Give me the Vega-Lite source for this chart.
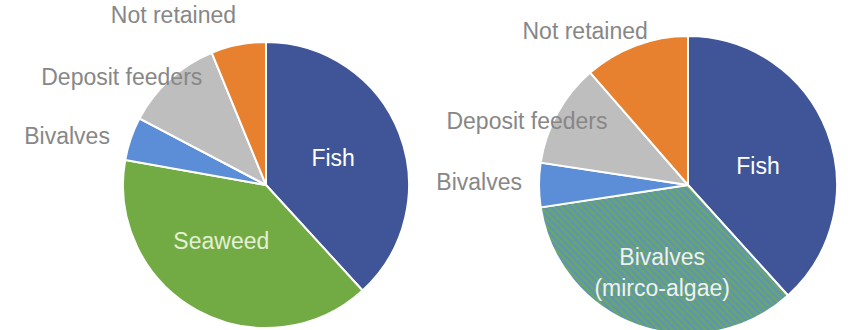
{
  "$schema": "https://vega.github.io/schema/vega-lite/v6.json",
  "padding": 0,
  "spacing": 0,
  "bounds": "flush",
  "background": "white",
  "config": {"view": {"stroke": null}, "text": {"font": "Liberation Sans", "fontSize": 23}},
  "datasets": {
    "before": [
      {"category": "Fish", "share": 38.2, "order": 1},
      {"category": "Seaweed", "share": 39.6, "order": 2},
      {"category": "Bivalves", "share": 4.9, "order": 3},
      {"category": "Deposit feeders", "share": 11.1, "order": 4},
      {"category": "Not retained", "share": 6.2, "order": 5}
    ],
    "after": [
      {"category": "Fish", "share": 38.3, "order": 1},
      {"category": "Bivalves (mirco-algae)", "share": 34.3, "order": 2},
      {"category": "Bivalves", "share": 4.8, "order": 3},
      {"category": "Deposit feeders", "share": 11.2, "order": 4},
      {"category": "Not retained", "share": 11.4, "order": 5}
    ]
  },
  "hconcat": [
    {
      "width": 532,
      "height": 370,
      "data": {"name": "before"},
      "encoding": {
        "theta": {"field": "share", "type": "quantitative", "stack": true},
        "order": {"field": "order", "type": "quantitative"}
      },
      "layer": [
        {
          "mark": {"type": "arc", "outerRadius": 143, "stroke": "white", "strokeWidth": 2},
          "encoding": {
            "fill": {
              "field": "category", "type": "nominal", "legend": null,
              "scale": {
                "domain": ["Fish", "Seaweed", "Bivalves", "Deposit feeders", "Not retained", "Bivalves (mirco-algae)"],
                "range": ["#3F5597", "#72AB44", "#5B8ED6", "#BEBEBE", "#E8812F", "#639D90"]
              }
            }
          }
        },
        {
          "mark": {"type": "text", "radius": 72, "color": "white", "align": "center", "baseline": "middle"},
          "encoding": {"text": {"condition": {"test": "datum.category === 'Fish'", "field": "category", "type": "nominal"}, "value": ""}}
        },
        {
          "mark": {"type": "text", "radius": 72, "color": "#E4F0D6", "align": "center", "baseline": "middle", "dx": -10, "dy": -6},
          "encoding": {"text": {"condition": {"test": "datum.category === 'Seaweed'", "field": "category", "type": "nominal"}, "value": ""}}
        },
        {
          "mark": {"type": "text", "radius": 165, "color": "#878787", "align": "right", "baseline": "middle", "dy": 5},
          "encoding": {"text": {"condition": {"test": "datum.category === 'Bivalves'", "field": "category", "type": "nominal"}, "value": ""}}
        },
        {
          "mark": {"type": "text", "radius": 170, "color": "#878787", "align": "right", "baseline": "middle", "dx": 3, "dy": -2},
          "encoding": {"text": {"condition": {"test": "datum.category === 'Not retained'", "field": "category", "type": "nominal"}, "value": ""}}
        },
        {
          "mark": {"type": "text", "radius": 160, "color": "#878787", "align": "right", "baseline": "middle", "dx": 44, "dy": 11},
          "encoding": {"text": {"condition": {"test": "datum.category === 'Deposit feeders'", "field": "category", "type": "nominal"}, "value": ""}}
        }
      ]
    },
    {
      "width": 312,
      "height": 370,
      "data": {"name": "after"},
      "encoding": {
        "theta": {"field": "share", "type": "quantitative", "stack": true},
        "order": {"field": "order", "type": "quantitative"}
      },
      "layer": [
        {
          "mark": {"type": "arc", "outerRadius": 149, "stroke": "white", "strokeWidth": 2},
          "encoding": {
            "fill": {
              "field": "category", "type": "nominal", "legend": null,
              "scale": {
                "domain": ["Fish", "Seaweed", "Bivalves", "Deposit feeders", "Not retained", "Bivalves (mirco-algae)"],
                "range": ["#3F5597", "#72AB44", "#5B8ED6", "#BEBEBE", "#E8812F", "#639D90"]
              },
              "condition": {
                "test": "datum.category === 'Bivalves (mirco-algae)'",
                "value": {
                  "gradient": "linear", "x1": 0, "y1": 0.79, "x2": 1, "y2": 0.21,
                  "stops": [
                    {"offset": 0, "color": "#6CAB55"}, {"offset": 0.01, "color": "#5B8FC9"},
                    {"offset": 0.02, "color": "#6CAB55"}, {"offset": 0.03, "color": "#5B8FC9"},
                    {"offset": 0.04, "color": "#6CAB55"}, {"offset": 0.05, "color": "#5B8FC9"},
                    {"offset": 0.06, "color": "#6CAB55"}, {"offset": 0.07, "color": "#5B8FC9"},
                    {"offset": 0.08, "color": "#6CAB55"}, {"offset": 0.09, "color": "#5B8FC9"},
                    {"offset": 0.10, "color": "#6CAB55"}, {"offset": 0.11, "color": "#5B8FC9"},
                    {"offset": 0.12, "color": "#6CAB55"}, {"offset": 0.13, "color": "#5B8FC9"},
                    {"offset": 0.14, "color": "#6CAB55"}, {"offset": 0.15, "color": "#5B8FC9"},
                    {"offset": 0.16, "color": "#6CAB55"}, {"offset": 0.17, "color": "#5B8FC9"},
                    {"offset": 0.18, "color": "#6CAB55"}, {"offset": 0.19, "color": "#5B8FC9"},
                    {"offset": 0.20, "color": "#6CAB55"}, {"offset": 0.21, "color": "#5B8FC9"},
                    {"offset": 0.22, "color": "#6CAB55"}, {"offset": 0.23, "color": "#5B8FC9"},
                    {"offset": 0.24, "color": "#6CAB55"}, {"offset": 0.25, "color": "#5B8FC9"},
                    {"offset": 0.26, "color": "#6CAB55"}, {"offset": 0.27, "color": "#5B8FC9"},
                    {"offset": 0.28, "color": "#6CAB55"}, {"offset": 0.29, "color": "#5B8FC9"},
                    {"offset": 0.30, "color": "#6CAB55"}, {"offset": 0.31, "color": "#5B8FC9"},
                    {"offset": 0.32, "color": "#6CAB55"}, {"offset": 0.33, "color": "#5B8FC9"},
                    {"offset": 0.34, "color": "#6CAB55"}, {"offset": 0.35, "color": "#5B8FC9"},
                    {"offset": 0.36, "color": "#6CAB55"}, {"offset": 0.37, "color": "#5B8FC9"},
                    {"offset": 0.38, "color": "#6CAB55"}, {"offset": 0.39, "color": "#5B8FC9"},
                    {"offset": 0.40, "color": "#6CAB55"}, {"offset": 0.41, "color": "#5B8FC9"},
                    {"offset": 0.42, "color": "#6CAB55"}, {"offset": 0.43, "color": "#5B8FC9"},
                    {"offset": 0.44, "color": "#6CAB55"}, {"offset": 0.45, "color": "#5B8FC9"},
                    {"offset": 0.46, "color": "#6CAB55"}, {"offset": 0.47, "color": "#5B8FC9"},
                    {"offset": 0.48, "color": "#6CAB55"}, {"offset": 0.49, "color": "#5B8FC9"},
                    {"offset": 0.50, "color": "#6CAB55"}, {"offset": 0.51, "color": "#5B8FC9"},
                    {"offset": 0.52, "color": "#6CAB55"}, {"offset": 0.53, "color": "#5B8FC9"},
                    {"offset": 0.54, "color": "#6CAB55"}, {"offset": 0.55, "color": "#5B8FC9"},
                    {"offset": 0.56, "color": "#6CAB55"}, {"offset": 0.57, "color": "#5B8FC9"},
                    {"offset": 0.58, "color": "#6CAB55"}, {"offset": 0.59, "color": "#5B8FC9"},
                    {"offset": 0.60, "color": "#6CAB55"}, {"offset": 0.61, "color": "#5B8FC9"},
                    {"offset": 0.62, "color": "#6CAB55"}, {"offset": 0.63, "color": "#5B8FC9"},
                    {"offset": 0.64, "color": "#6CAB55"}, {"offset": 0.65, "color": "#5B8FC9"},
                    {"offset": 0.66, "color": "#6CAB55"}, {"offset": 0.67, "color": "#5B8FC9"},
                    {"offset": 0.68, "color": "#6CAB55"}, {"offset": 0.69, "color": "#5B8FC9"},
                    {"offset": 0.70, "color": "#6CAB55"}, {"offset": 0.71, "color": "#5B8FC9"},
                    {"offset": 0.72, "color": "#6CAB55"}, {"offset": 0.73, "color": "#5B8FC9"},
                    {"offset": 0.74, "color": "#6CAB55"}, {"offset": 0.75, "color": "#5B8FC9"},
                    {"offset": 0.76, "color": "#6CAB55"}, {"offset": 0.77, "color": "#5B8FC9"},
                    {"offset": 0.78, "color": "#6CAB55"}, {"offset": 0.79, "color": "#5B8FC9"},
                    {"offset": 0.80, "color": "#6CAB55"}, {"offset": 0.81, "color": "#5B8FC9"},
                    {"offset": 0.82, "color": "#6CAB55"}, {"offset": 0.83, "color": "#5B8FC9"},
                    {"offset": 0.84, "color": "#6CAB55"}, {"offset": 0.85, "color": "#5B8FC9"},
                    {"offset": 0.86, "color": "#6CAB55"}, {"offset": 0.87, "color": "#5B8FC9"},
                    {"offset": 0.88, "color": "#6CAB55"}, {"offset": 0.89, "color": "#5B8FC9"},
                    {"offset": 0.90, "color": "#6CAB55"}, {"offset": 0.91, "color": "#5B8FC9"},
                    {"offset": 0.92, "color": "#6CAB55"}, {"offset": 0.93, "color": "#5B8FC9"},
                    {"offset": 0.94, "color": "#6CAB55"}, {"offset": 0.95, "color": "#5B8FC9"},
                    {"offset": 0.96, "color": "#6CAB55"}, {"offset": 0.97, "color": "#5B8FC9"},
                    {"offset": 0.98, "color": "#6CAB55"}, {"offset": 0.99, "color": "#5B8FC9"},
                    {"offset": 1, "color": "#6CAB55"}
                  ]
                }
              }
            }
          }
        },
        {
          "mark": {"type": "text", "radius": 75, "color": "white", "align": "center", "baseline": "middle", "dy": 9},
          "encoding": {"text": {"condition": {"test": "datum.category === 'Fish'", "field": "category", "type": "nominal"}, "value": ""}}
        },
        {
          "mark": {"type": "text", "radius": 77, "color": "#EEF2EC", "align": "center", "baseline": "middle", "lineBreak": " ", "lineHeight": 31},
          "encoding": {"text": {"condition": {"test": "datum.category === 'Bivalves (mirco-algae)'", "field": "category", "type": "nominal"}, "value": ""}}
        },
        {
          "mark": {"type": "text", "radius": 166, "color": "#878787", "align": "right", "baseline": "middle", "dy": -2},
          "encoding": {"text": {"condition": {"test": "datum.category === 'Bivalves'", "field": "category", "type": "nominal"}, "value": ""}}
        },
        {
          "mark": {"type": "text", "radius": 166, "color": "#878787", "align": "right", "baseline": "middle", "dx": 65, "dy": 17},
          "encoding": {"text": {"condition": {"test": "datum.category === 'Deposit feeders'", "field": "category", "type": "nominal"}, "value": ""}}
        },
        {
          "mark": {"type": "text", "radius": 166, "color": "#878787", "align": "right", "baseline": "middle", "dx": 18, "dy": 2},
          "encoding": {"text": {"condition": {"test": "datum.category === 'Not retained'", "field": "category", "type": "nominal"}, "value": ""}}
        }
      ]
    }
  ]
}
